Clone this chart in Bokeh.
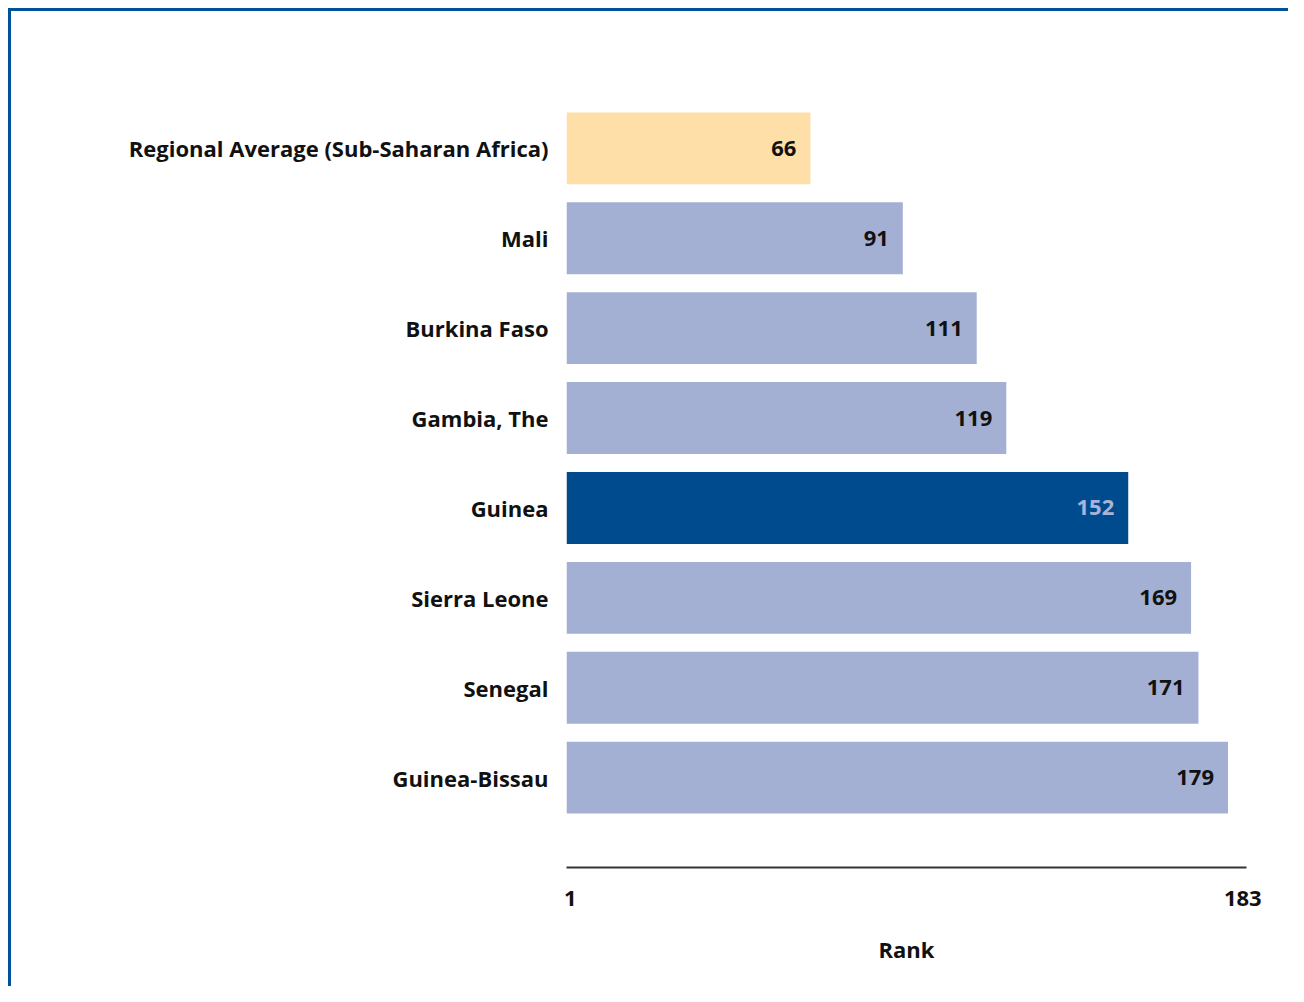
from bokeh.plotting import figure
from bokeh.models import ColumnDataSource, FactorRange, Range1d, FixedTicker
from bokeh.core.properties import value
from bokeh.embed import file_html
from bokeh.resources import INLINE

countries = ["Regional Average (Sub-Saharan Africa)", "Mali", "Burkina Faso", "Gambia, The",
             "Guinea", "Sierra Leone", "Senegal", "Guinea-Bissau"]
ranks = [66, 91, 111, 119, 152, 169, 171, 179]
bar_colors = ["#fedfa8", "#a4b0d3", "#a4b0d3", "#a4b0d3", "#004b8d", "#a4b0d3", "#a4b0d3", "#a4b0d3"]
label_colors = ["#111111", "#111111", "#111111", "#111111", "#a9b4d8", "#111111", "#111111", "#111111"]
x_ticks = [1, 183]
x_title = "Rank"

FONT = "Open Sans"
FSIZE = "22px"

src = ColumnDataSource(dict(country=countries, rank=ranks, color=bar_colors,
                            lcolor=label_colors, txt=[str(r) for r in ranks]))

p = figure(width=1288, height=986, output_backend="svg", toolbar_location=None,
           y_range=FactorRange(factors=list(reversed(countries)), range_padding=0.5,
                               range_padding_units="absolute"),
           x_range=Range1d(0, 184))
p.min_border_left = 566
p.min_border_top = 58
p.min_border_bottom = 119
p.min_border_right = 42
p.outline_line_color = None
p.grid.visible = False
p.background_fill_color = "white"
p.border_fill_color = None
p.styles = {
    "background": ("linear-gradient(#00509a, #00509a) 8px 8px / 3px 100% no-repeat, "
                   "linear-gradient(#00509a, #00509a) 8px 8px / 100% 3px no-repeat, white"),
}

p.hbar(y="country", right="rank", left=0, height=0.8, color="color", line_color=None, source=src)
p.text(x="rank", y="country", text="txt", text_color="lcolor", text_align="right",
       text_baseline="middle", x_offset=-14, text_font=value(FONT), text_font_style="bold",
       text_font_size=FSIZE, source=src)

xa = p.xaxis[0]
xa.ticker = FixedTicker(ticks=x_ticks)
xa.axis_line_color = "#333333"
xa.axis_line_width = 2
xa.major_tick_line_color = None
xa.minor_tick_line_color = None
xa.major_tick_out = 0
xa.major_tick_in = 0
xa.major_label_standoff = 23
xa.major_label_text_font = FONT
xa.major_label_text_font_style = "bold"
xa.major_label_text_font_size = FSIZE
xa.major_label_text_color = "#111111"
xa.axis_label = x_title
xa.axis_label_text_font = FONT
xa.axis_label_text_font_style = "bold"
xa.axis_label_text_font_size = FSIZE
xa.axis_label_text_color = "#111111"
xa.axis_label_standoff = 25

ya = p.yaxis[0]
ya.axis_line_color = None
ya.major_tick_line_color = None
ya.minor_tick_line_color = None
ya.major_tick_out = 0
ya.major_tick_in = 0
ya.major_label_standoff = 18
ya.major_label_text_font = FONT
ya.major_label_text_font_style = "bold"
ya.major_label_text_font_size = FSIZE
ya.major_label_text_color = "#111111"

open("out.html", "w").write(file_html(p, INLINE))
